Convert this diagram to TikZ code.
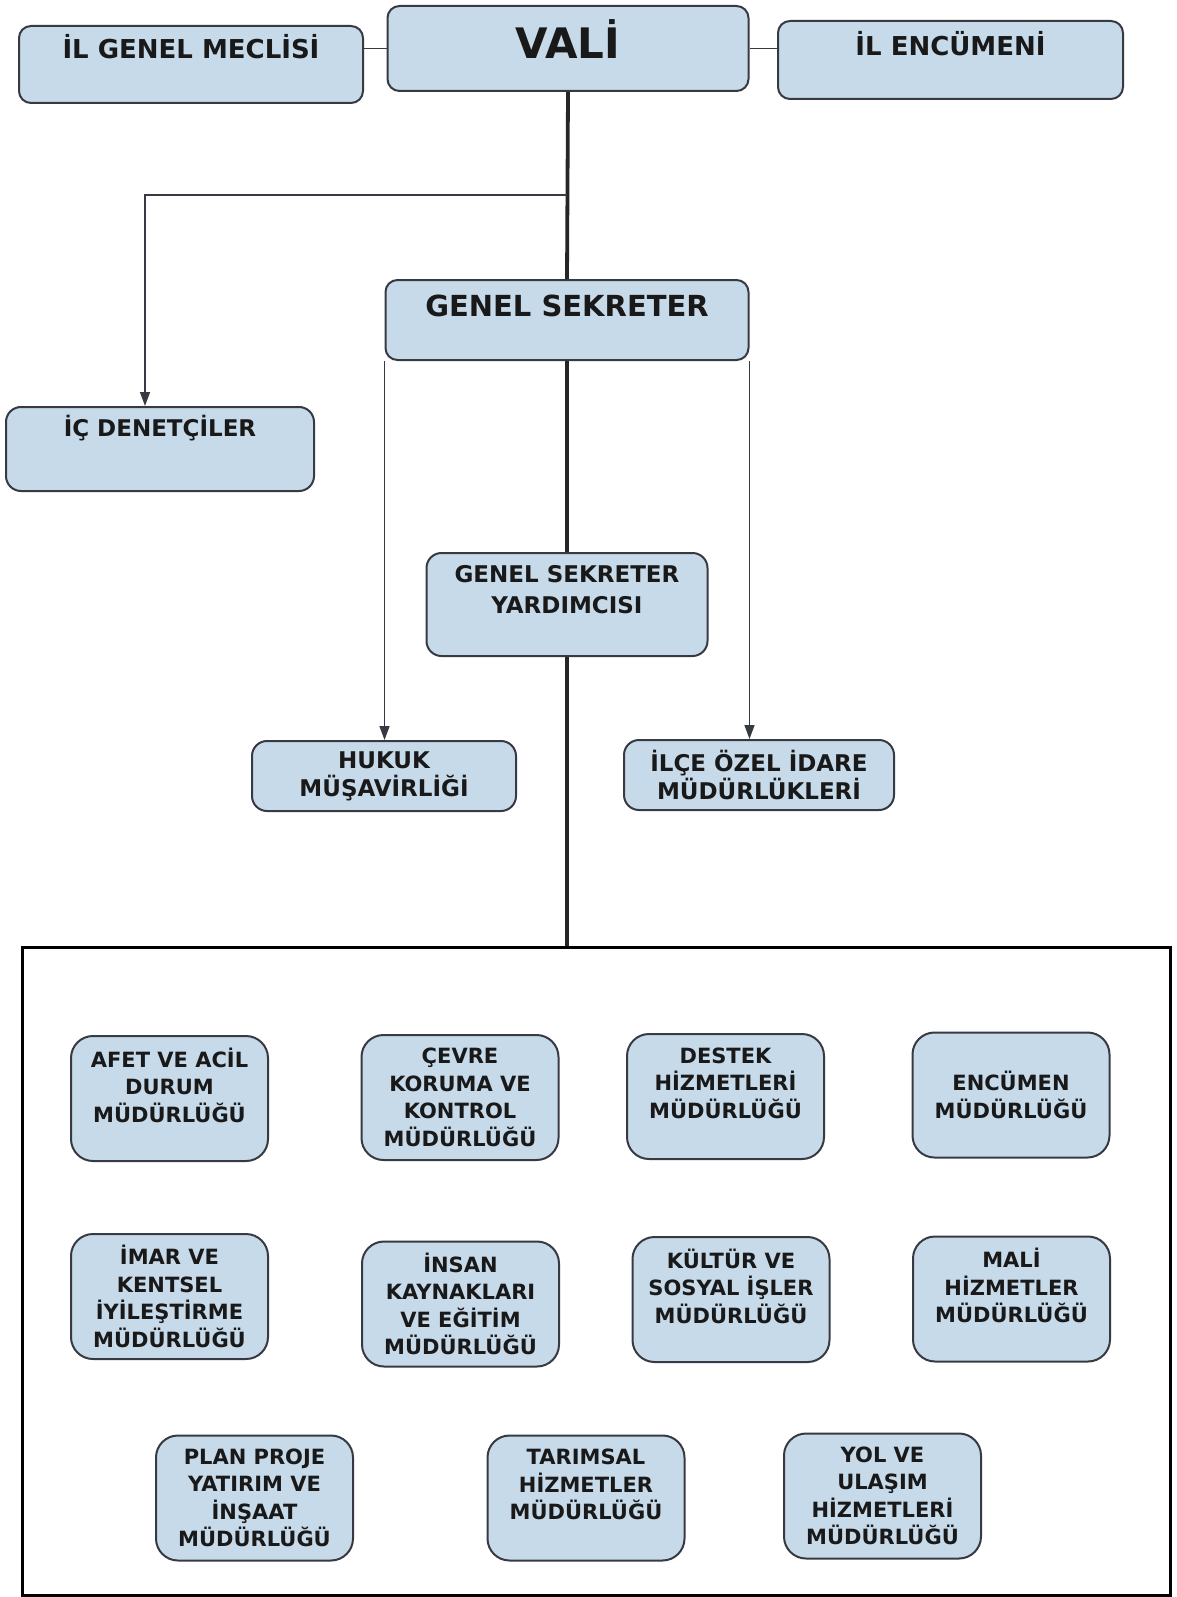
\documentclass[tikz,border=0pt]{standalone}
\usepackage{fontspec}
\setmainfont{DejaVu Sans}
\usepackage{tikz}
\usetikzlibrary{arrows.meta,positioning}
\definecolor{boxblue}{RGB}{199,218,234}
\definecolor{boxline}{RGB}{55,58,66}
\tikzset{orgbox/.style={draw=boxline,line width=2pt,fill=boxblue,align=center,text=black!90},
topbox/.style={orgbox,rounded corners=12pt,font=\bfseries\fontsize{26}{32}\selectfont,text height=19pt},
midbox/.style={orgbox,rounded corners=15pt,font=\bfseries\fontsize{23}{28}\selectfont},
dirbox/.style={orgbox,rounded corners=22pt,minimum width=197pt,minimum height=125pt,font=\bfseries\fontsize{21}{27.5}\selectfont},
lift/.style={text depth=#1}}

\begin{document}
\begin{tikzpicture}[x=1pt,y=-1pt,link/.style={draw=boxline,line width=1.5pt},spine/.style={draw=black!85,line width=3.8pt},arr/.style={link,-{Triangle[length=14pt,width=10pt]}}]
	\useasboundingbox (0,0) rectangle (1176,1597);
	% ust kademe
	\node[topbox,minimum width=344pt,minimum height=77pt,lift=31pt] (meclis) at (191,64.5) {İL GENEL MECLİSİ};
	\node[topbox,minimum width=361pt,minimum height=85pt,font=\bfseries\fontsize{42}{50}\selectfont,text height=31pt,lift=11pt] (vali) at (568,48.5) {VALİ};
	\node[topbox,minimum width=345pt,minimum height=78pt,lift=28pt] (encumen) at (950.5,60) {İL ENCÜMENİ};
	\node[topbox,minimum width=363pt,minimum height=80pt,font=\bfseries\fontsize{29}{35}\selectfont,text height=21pt,lift=28pt] (gs) at (567,320) {GENEL SEKRETER};

	\node[midbox,minimum width=308pt,minimum height=84pt,text height=16pt,lift=42pt] (ic) at (160,449) {İÇ DENETÇİLER};
	\node[midbox,minimum width=281pt,minimum height=103pt,font=\bfseries\fontsize{23}{31}\selectfont,lift=30pt] (gsy) at (567,604.5) {GENEL SEKRETER\\YARDIMCISI};
	\node[midbox,minimum width=264pt,minimum height=70pt] (hukuk) at (384,776) {HUKUK\\MÜŞAVİRLİĞİ};
	\node[midbox,minimum width=270pt,minimum height=70pt] (ilce) at (759,775) {İLÇE ÖZEL İDARE\\MÜDÜRLÜKLERİ};

	\node[draw,line width=3pt,minimum width=1148pt,minimum height=648pt,inner sep=0pt] (mud) at (596,1271) {};

	% baglantilar
	\draw[link] (meclis.east |- vali.west) -- (vali.west);
	\draw[link] (vali.east) -- (encumen.west |- vali.east);
	\draw[spine] (vali.south) -- (gs.north);
	\coordinate (kol) at (567,195);
	\draw[arr] (kol) -| ([xshift=-15pt]ic.north);
	\draw[arr] (gs.south west) -- (gs.south west |- hukuk.north);
	\draw[arr] (gs.south east) -- (gs.south east |- ilce.north);
	\draw[spine] (gs.south) -- (gsy.north);
	\draw[spine] (gsy.south) -- (gsy.south |- mud.north);

	% mudurlukler
	\node[dirbox,lift=27pt] (afet) at (169.5,1098.5) {AFET VE ACİL\\DURUM\\MÜDÜRLÜĞÜ};
	\node[dirbox] (cevre) at (460,1097.5) {ÇEVRE\\KORUMA VE\\KONTROL\\MÜDÜRLÜĞÜ};
	\node[dirbox,lift=27pt] (destek) at (725.5,1096.5) {DESTEK\\HİZMETLERİ\\MÜDÜRLÜĞÜ};
	\node[dirbox] (encm) at (1011,1095) {ENCÜMEN\\MÜDÜRLÜĞÜ};

	\node[dirbox] (imar) at (169.5,1296.5) {İMAR VE\\KENTSEL\\İYİLEŞTİRME\\MÜDÜRLÜĞÜ};
	\node[dirbox] (insan) at (460.5,1304) {İNSAN\\KAYNAKLARI\\VE EĞİTİM\\MÜDÜRLÜĞÜ};
	\node[dirbox,lift=27pt] (kultur) at (731,1299.5) {KÜLTÜR VE\\SOSYAL İŞLER\\MÜDÜRLÜĞÜ};
	\node[dirbox,lift=27pt] (mali) at (1011.5,1299) {MALİ\\HİZMETLER\\MÜDÜRLÜĞÜ};

	\node[dirbox] (plan) at (254.5,1498) {PLAN PROJE\\YATIRIM VE\\İNŞAAT\\MÜDÜRLÜĞÜ};
	\node[dirbox,lift=27pt] (tarim) at (586,1498) {TARIMSAL\\HİZMETLER\\MÜDÜRLÜĞÜ};
	\node[dirbox] (yol) at (882.5,1496) {YOL VE\\ULAŞIM\\HİZMETLERİ\\MÜDÜRLÜĞÜ};
\end{tikzpicture}
\end{document}
